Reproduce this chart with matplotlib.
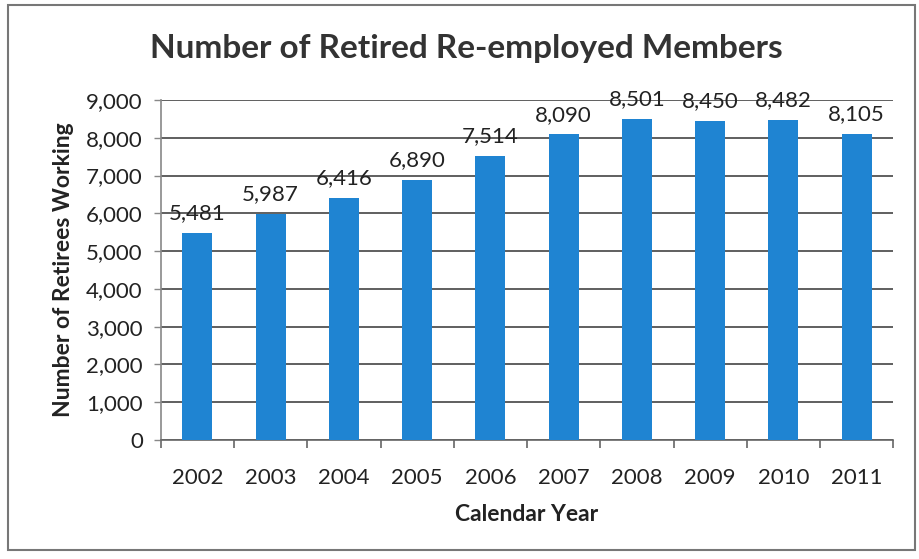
import matplotlib
matplotlib.use("Agg")
import matplotlib.pyplot as plt
from matplotlib.patches import Rectangle
from matplotlib.ticker import FuncFormatter, MultipleLocator

years = ["2002", "2003", "2004", "2005", "2006", "2007", "2008", "2009", "2010", "2011"]
retirees = [5481, 5987, 6416, 6890, 7514, 8090, 8501, 8450, 8482, 8105]

plt.rcParams["font.family"] = ["Lato", "DejaVu Sans"]

fig = plt.figure(figsize=(9.19, 5.59), dpi=100)
ax = fig.add_axes([0.175, 0.213, 0.797, 0.608])

x = list(range(len(years)))
bars = ax.bar(x, retirees, width=0.41, color="#1f84d2", zorder=3)

for rect, v in zip(bars, retirees):
    ax.annotate(f"{v:,}", (rect.get_x() + rect.get_width() / 2, v),
                xytext=(0, 7), textcoords="offset points",
                ha="center", va="bottom", fontsize=16, color="#222222")

ax.set_xlim(-0.5, len(years) - 0.5)
ax.set_ylim(0, 9000)
ax.yaxis.set_major_locator(MultipleLocator(1000))
ax.yaxis.set_major_formatter(FuncFormatter(lambda v, p: f"{int(v):,}"))
ax.set_xticks(x)
ax.set_xticklabels(years)
ax.set_xticks([i - 0.5 for i in range(len(years) + 1)], minor=True)

ax.grid(axis="y", color="#444444", linewidth=1.2, zorder=0)
for side in ("top", "right"):
    ax.spines[side].set_visible(False)
ax.spines["left"].set_color("#888888")
ax.spines["bottom"].set_color("#666666")
ax.spines["left"].set_linewidth(1.2)
ax.spines["bottom"].set_linewidth(1.2)

ax.tick_params(axis="x", which="major", length=0, labelsize=16, pad=20, colors="#222222")
ax.tick_params(axis="x", which="minor", length=6, width=1.2, color="#666666", direction="out")
ax.tick_params(axis="y", length=5, width=1, color="#888888", labelsize=16, pad=8, colors="#222222")

ax.set_xlabel("Calendar Year", fontsize=16.5, fontweight="bold", labelpad=12, color="#222222")
ax.set_ylabel("Number of Retirees Working", fontsize=16.5, fontweight="bold", labelpad=9, color="#222222")

fig.suptitle("Number of Retired Re-employed Members", x=0.508, y=0.94,
             fontsize=24, fontweight="bold", color="#333333")

fig.patches.append(Rectangle((8 / 919, 1 - 550 / 559), 907 / 919, 545 / 559,
                             transform=fig.transFigure, fill=False,
                             edgecolor="#777777", linewidth=1.5))

fig.savefig("out.png", dpi=100, facecolor="white")
